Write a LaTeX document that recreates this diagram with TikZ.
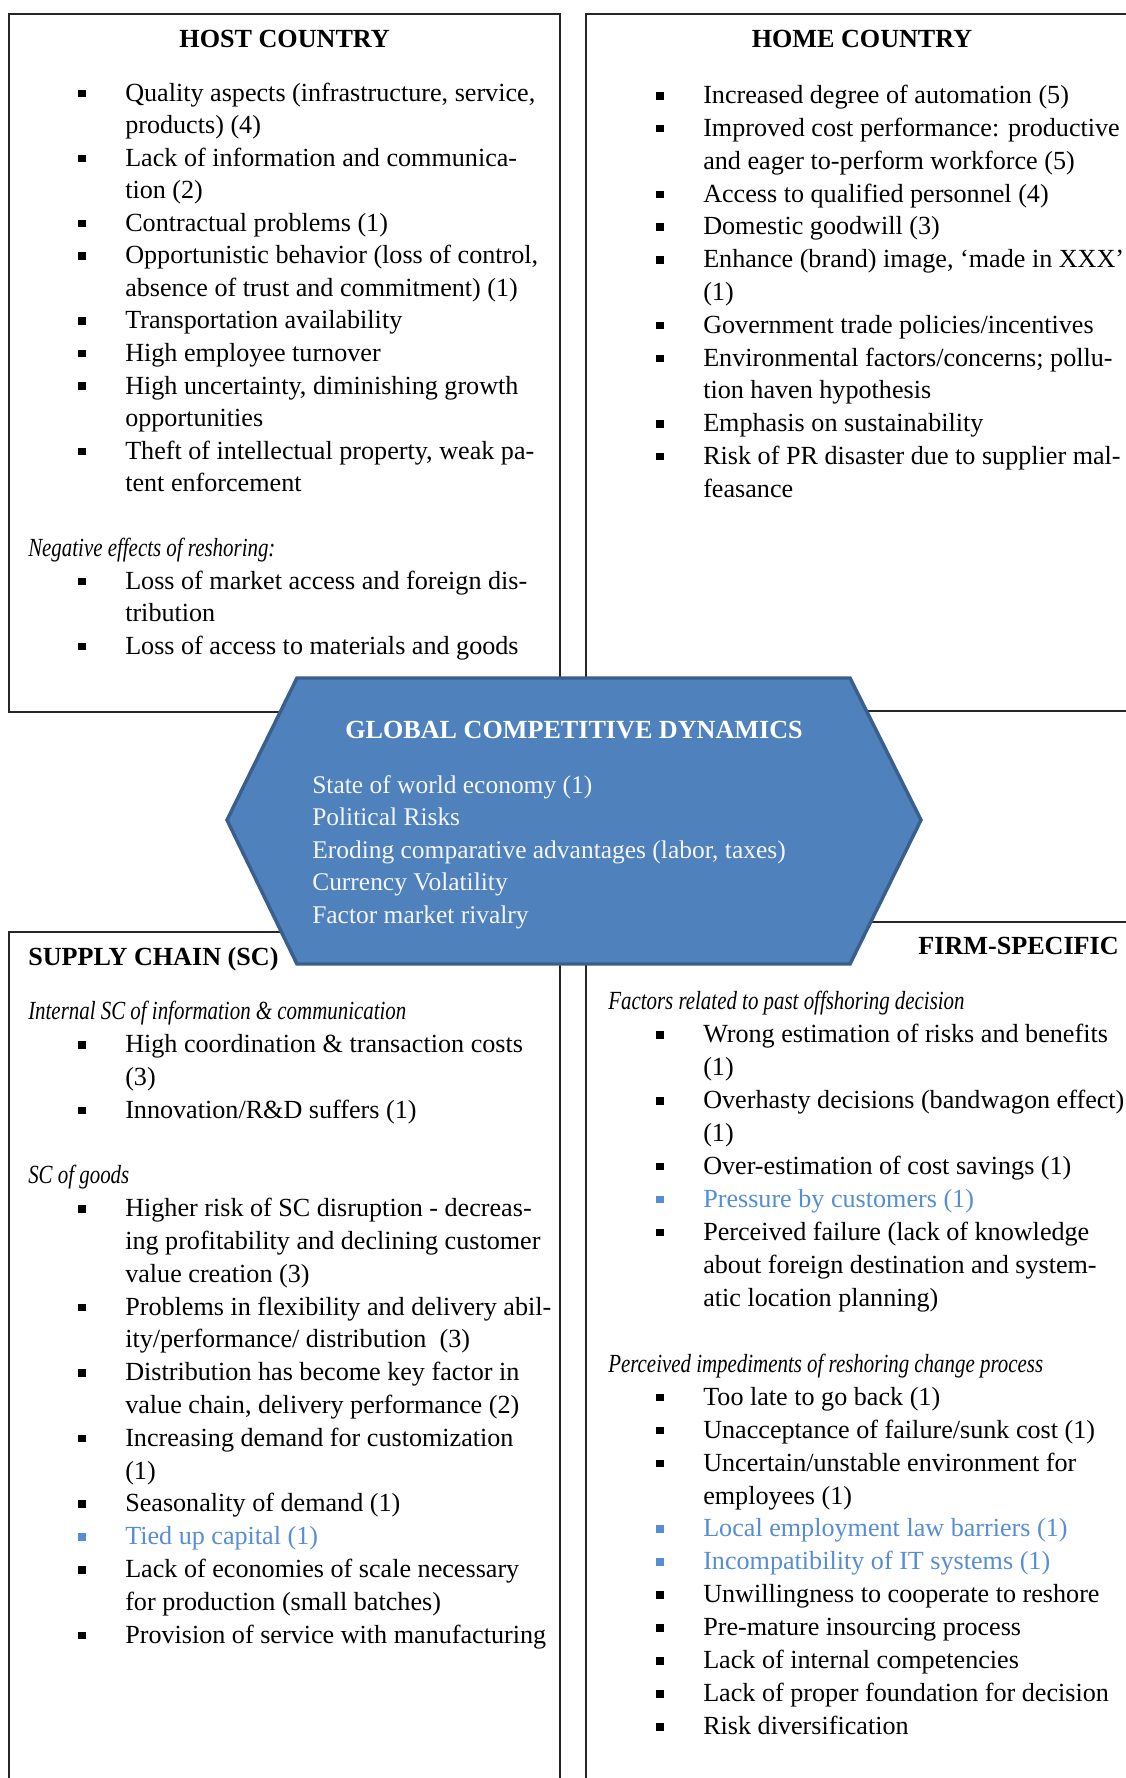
\documentclass[tikz,border=0pt]{standalone}
\usepackage{fontspec}
\setmainfont{Liberation Serif}
\definecolor{hexfill}{HTML}{4F81BD}
\definecolor{hexline}{HTML}{3A5F8C}
\definecolor{itemblue}{RGB}{85,142,213}
\definecolor{hextext}{HTML}{F4F6FA}
\tikzset{
  x=0.75pt, y=-0.75pt,
  txt/.style={inner sep=0pt, font=\fontsize{19.6}{24}\selectfont},
  ttl/.style={inner sep=0pt, font=\fontsize{19.6}{24}\selectfont\bfseries},
  frame/.style={draw=black!85, line width=0.8pt},
}
% line types: b bullet, c continuation, B blue bullet, i italic heading, e empty
\newcommand\LTb[3]{\fill (\bx-4,#2-8.5) rectangle ++(7.5,7.5);
  \node[txt, anchor=mid west] (#1) at (\tx,#2) {#3};}
\newcommand\LTB[3]{\fill[itemblue] (\bx-4,#2-8.5) rectangle ++(7.5,7.5);
  \node[txt, text=itemblue, anchor=mid west] (#1) at (\tx,#2) {#3};}
\newcommand\LTc[3]{\node[txt, anchor=mid west] (#1) at (\tx,#2) {#3};}
\newcommand\LTi[3]{\node[txt, font=\fontsize{19.6}{24}\selectfont\itshape, anchor=mid west] (#1) at (\hx,#2) {\scalebox{0.80}[1]{#3}};}
\newcommand\LTe[3]{}
\begin{document}
\begin{tikzpicture}
\useasboundingbox (0,0) rectangle (1126,1778);
\clip (0,0) rectangle (1126,1778);
\fill[white] (0,0) rectangle (1126,1778);

% frames
\draw[frame] (9,14) rectangle (560,712);
\draw[frame] (586,14) rectangle (1140,711);
\draw[frame] (9,1790) -- (9,932) -- (560,932) -- (560,1790);
\draw[frame] (586,1790) -- (586,922) -- (1140,922);

% titles
\node[ttl, anchor=mid] (hostT) at (284.6,44) {HOST COUNTRY};
\node[ttl, anchor=mid] (homeT) at (862,44) {HOME COUNTRY};
\node[ttl, anchor=mid west] (scT) at (28,962) {SUPPLY CHAIN (SC)};
\node[ttl, anchor=mid east] (firmT) at (1119,951) {FIRM-SPECIFIC};

% host country
\def\bx{82}\def\tx{125}\def\hx{28}\def\yo{98}\def\ls{32.55}
\foreach [count=\i from 0] \k/\t in {
 b/{Quality aspects (infrastructure, service,},
 c/{products) (4)},
 b/{Lack of information and communica-},
 c/{tion (2)},
 b/{Contractual problems (1)},
 b/{Opportunistic behavior (loss of control,},
 c/{absence of trust and commitment) (1)},
 b/{Transportation availability},
 b/{High employee turnover},
 b/{High uncertainty, diminishing growth},
 c/{opportunities},
 b/{Theft of intellectual property, weak pa-},
 c/{tent enforcement},
 e/{},
 i/{Negative effects of reshoring:},
 b/{Loss of market access and foreign dis-},
 c/{tribution},
 b/{Loss of access to materials and goods}}
{\pgfmathsetmacro\yy{\yo+\i*\ls}\csname LT\k\endcsname{host\i}{\yy}{\t}}

% home country
\def\bx{660}\def\tx{703}\def\hx{608}\def\yo{100.6}\def\ls{32.8}
\foreach [count=\i from 0] \k/\t in {
 b/{Increased degree of automation (5)},
 b/{Improved cost performance: productive},
 c/{and eager to-perform workforce (5)},
 b/{Access to qualified personnel (4)},
 b/{Domestic goodwill (3)},
 b/{Enhance (brand) image, ‘made in XXX’},
 c/{(1)},
 b/{Government trade policies/incentives},
 b/{Environmental factors/concerns; pollu-},
 c/{tion haven hypothesis},
 b/{Emphasis on sustainability},
 b/{Risk of PR disaster due to supplier mal-},
 c/{feasance}}
{\pgfmathsetmacro\yy{\yo+\i*\ls}\csname LT\k\endcsname{home\i}{\yy}{\t}}

% supply chain
\def\bx{82}\def\tx{125}\def\hx{28}\def\yo{1016.9}\def\ls{32.8}
\foreach [count=\i from 0] \k/\t in {
 i/{Internal SC of information \& communication},
 b/{High coordination \& transaction costs},
 c/{(3)},
 b/{Innovation/R\&D suffers (1)},
 e/{},
 i/{SC of goods},
 b/{Higher risk of SC disruption - decreas-},
 c/{ing profitability and declining customer},
 c/{value creation (3)},
 b/{Problems in flexibility and delivery abil-},
 c/{ity/performance/ distribution\ \ (3)},
 b/{Distribution has become key factor in},
 c/{value chain, delivery performance (2)},
 b/{Increasing demand for customization},
 c/{(1)},
 b/{Seasonality of demand (1)},
 B/{Tied up capital (1)},
 b/{Lack of economies of scale necessary},
 c/{for production (small batches)},
 b/{Provision of service with manufacturing}}
{\pgfmathsetmacro\yy{\yo+\i*\ls}\csname LT\k\endcsname{sc\i}{\yy}{\t}}

% firm-specific
\def\bx{660}\def\tx{703}\def\hx{608}\def\yo{1006.7}\def\ls{32.95}
\foreach [count=\i from 0] \k/\t in {
 i/{Factors related to past offshoring decision},
 b/{Wrong estimation of risks and benefits},
 c/{(1)},
 b/{Overhasty decisions (bandwagon effect)},
 c/{(1)},
 b/{Over-estimation of cost savings (1)},
 B/{Pressure by customers (1)},
 b/{Perceived failure (lack of knowledge},
 c/{about foreign destination and system-},
 c/{atic location planning)},
 e/{},
 i/{Perceived impediments of reshoring change process},
 b/{Too late to go back (1)},
 b/{Unacceptance of failure/sunk cost (1)},
 b/{Uncertain/unstable environment for},
 c/{employees (1)},
 B/{Local employment law barriers (1)},
 B/{Incompatibility of IT systems (1)},
 b/{Unwillingness to cooperate to reshore},
 b/{Pre-mature insourcing process},
 b/{Lack of internal competencies},
 b/{Lack of proper foundation for decision},
 b/{Risk diversification}}
{\pgfmathsetmacro\yy{\yo+\i*\ls}\csname LT\k\endcsname{firm\i}{\yy}{\t}}

% central hexagon
\draw[fill=hexfill, draw=hexline, line width=2.6pt, line join=miter]
  (297,678) -- (850,678) -- (921,820) -- (850,964) -- (297,964) -- (227,820) -- cycle;
\node[ttl, text=white, anchor=mid] (gT) at (574,735.5) {GLOBAL COMPETITIVE DYNAMICS};
\foreach [count=\i from 0] \t in {
 {State of world economy (1)},
 {Political Risks},
 {Eroding comparative advantages (labor, taxes)},
 {Currency Volatility},
 {Factor market rivalry}}
{\pgfmathsetmacro\yy{790+\i*32.6}
 \node[txt, font=\fontsize{19.1}{24}\selectfont, text=hextext, anchor=mid west] (g\i) at (312,\yy) {\t};}
\end{tikzpicture}
\end{document}
